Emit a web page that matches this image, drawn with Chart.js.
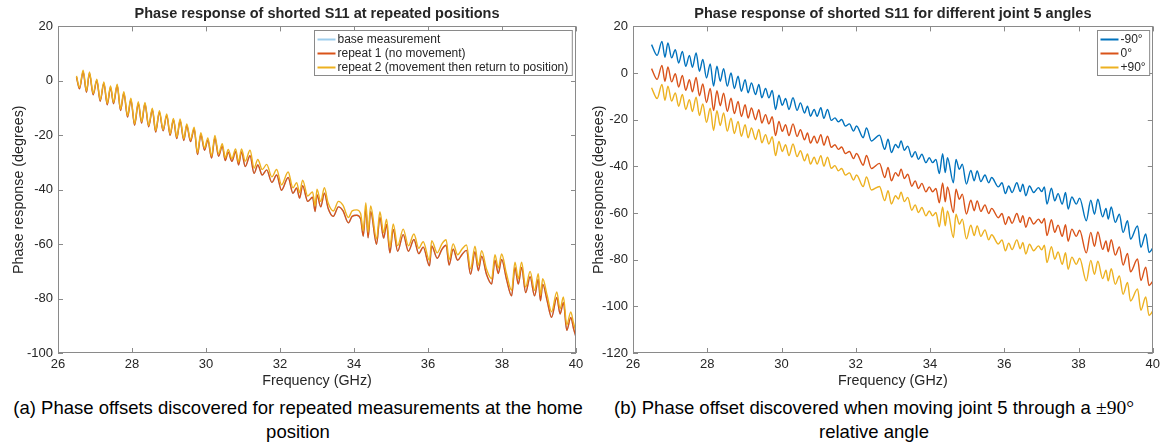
<!DOCTYPE html>
<html>
<head>
<meta charset="utf-8">
<script src="https://cdn.jsdelivr.net/npm/chart.js"></script>
<style>
  body { margin: 0; background: #fff; width: 1164px; height: 448px; position: relative; overflow: hidden; }
  .box { position: absolute; top: 0; height: 396px; }
  .cap { position: absolute; top: 396px; font-family: "Liberation Sans", Arial, sans-serif; font-size: 18.5px; line-height: 24px; color: #000; text-align: center; }
  .serif { font-family: "Liberation Serif", "Times New Roman", serif; font-size: 19.5px; }
</style>
</head>
<body>
<div class="box" style="left:0;width:590px"><canvas id="graphA"></canvas></div>
<div class="box" style="left:590px;width:574px"><canvas id="graphB"></canvas></div>
<div class="cap" style="left:0;width:596px">(a) Phase offsets discovered for repeated measurements at the home<br>position</div>
<div class="cap" style="left:594px;width:560px">(b) Phase offset discovered when moving joint 5 through a <span class="serif">±90°</span><br>relative angle</div>
<script>
// ---- (a) repeated positions ----
const freqA = [
  26.50, 26.58, 26.68, 26.77, 26.85, 26.95, 27.05, 27.14, 27.24, 27.33,
  27.42, 27.50, 27.60, 27.69, 27.78, 27.88, 27.97, 28.07, 28.17, 28.26,
  28.35, 28.45, 28.55, 28.64, 28.74, 28.84, 28.94, 29.03, 29.12, 29.21,
  29.30, 29.40, 29.48, 29.58, 29.68, 29.77, 29.86, 29.96, 30.05, 30.15,
  30.24, 30.34, 30.44, 30.52, 30.60, 30.70, 30.80, 30.88, 30.96, 31.06,
  31.19, 31.30, 31.40, 31.52, 31.64, 31.78, 31.91, 32.04, 32.22, 32.35,
  32.45, 32.53, 32.61, 32.75, 32.88, 32.95, 33.00, 33.10, 33.20, 33.30,
  33.44, 33.58, 33.70, 33.85, 33.95, 34.07, 34.18, 34.25, 34.32, 34.38,
  34.45, 34.61, 34.70, 34.80, 34.88, 34.97, 35.06, 35.18, 35.33, 35.47,
  35.62, 35.75, 35.87, 36.04, 36.10, 36.25, 36.38, 36.49, 36.57, 36.68,
  36.80, 36.92, 37.04, 37.15, 37.27, 37.36, 37.45, 37.58, 37.72, 37.81,
  37.90, 37.99, 38.12, 38.26, 38.35, 38.44, 38.53, 38.64, 38.76, 38.88,
  38.98, 39.04, 39.10, 39.22, 39.34, 39.48, 39.57, 39.66, 39.75, 39.86,
  39.93, 40.00
];
const baseMeas = [
  1.3, -2.9, 3.3, -4.2, 2.8, -5.1, 0.1, -7.5, -0.9, -8.8,
  -2.4, -8.4, -1.7, -10.9, -4.5, -13.3, -6.9, -16.3, -8.2, -15.5,
  -8.4, -16.9, -10.6, -18.8, -11.5, -18.4, -12.7, -20.0, -14.3, -21.2,
  -14.6, -21.9, -16.4, -22.3, -17.7, -27.1, -19.8, -25.5, -21.8, -28.4,
  -21.0, -27.7, -24.0, -29.3, -26.2, -29.6, -26.0, -30.9, -26.1, -31.5,
  -27.5, -34.0, -30.9, -34.6, -32.7, -37.3, -34.6, -40.2, -35.5, -41.3,
  -39.4, -43.1, -38.5, -44.3, -42.8, -48.0, -41.8, -46.3, -41.3, -46.8,
  -49.8, -46.3, -47.7, -52.2, -49.8, -49.4, -50.8, -57.1, -46.8, -57.7,
  -48.0, -60.1, -50.1, -57.8, -52.8, -63.2, -54.6, -62.6, -56.5, -62.6,
  -58.3, -63.5, -61.1, -68.0, -60.7, -65.2, -61.8, -60.4, -67.7, -61.9,
  -65.9, -63.8, -62.3, -71.1, -62.8, -69.8, -64.4, -71.1, -74.7, -65.9,
  -70.8, -65.6, -72.8, -79.0, -68.6, -74.7, -68.6, -77.8, -72.0, -79.0,
  -72.9, -80.8, -74.7, -80.8, -86.9, -79.6, -85.7, -81.4, -91.7, -86.9,
  -90.8, -94.2
];
const repeat1 = [
  1.3, -2.9, 3.3, -4.2, 2.8, -5.1, 0.1, -7.5, -0.9, -8.8,
  -2.4, -8.4, -1.7, -10.9, -4.5, -13.3, -6.9, -16.3, -8.2, -15.5,
  -8.4, -16.9, -10.6, -18.8, -11.5, -18.4, -12.7, -20.0, -14.3, -21.2,
  -14.6, -21.9, -16.4, -22.3, -17.7, -27.1, -19.8, -25.5, -21.8, -28.4,
  -21.0, -27.7, -24.0, -29.3, -26.2, -29.6, -26.0, -30.9, -26.1, -31.5,
  -27.5, -34.0, -30.9, -34.6, -32.7, -37.3, -34.6, -40.2, -35.5, -41.3,
  -39.4, -43.1, -38.5, -44.3, -42.8, -48.0, -41.8, -46.3, -41.3, -46.8,
  -49.8, -46.3, -47.7, -52.2, -49.8, -49.4, -50.8, -57.1, -46.8, -57.7,
  -48.0, -60.1, -50.1, -57.8, -52.8, -63.2, -54.6, -62.6, -56.5, -62.6,
  -58.3, -63.5, -61.1, -68.0, -60.7, -65.2, -61.8, -60.4, -67.7, -61.9,
  -65.9, -63.8, -62.3, -71.1, -62.8, -69.8, -64.4, -71.1, -74.7, -65.9,
  -70.8, -65.6, -72.8, -79.0, -68.6, -74.7, -68.6, -77.8, -72.0, -79.0,
  -72.9, -80.8, -74.7, -80.8, -86.9, -79.6, -85.7, -81.4, -91.7, -86.9,
  -90.8, -94.2
];
const repeat2 = [
  1.8, -2.4, 3.9, -3.7, 3.3, -4.6, 0.6, -7.0, -0.4, -8.3,
  -1.9, -7.9, -1.2, -10.4, -4.0, -12.8, -6.4, -15.8, -7.7, -15.0,
  -7.9, -16.4, -10.1, -18.3, -11.0, -17.9, -12.2, -19.5, -13.8, -20.7,
  -14.0, -21.3, -15.8, -21.6, -17.0, -26.4, -19.1, -24.7, -21.0, -27.6,
  -20.1, -26.8, -23.1, -28.3, -25.2, -28.6, -25.0, -29.8, -25.0, -29.5,
  -25.5, -32.0, -28.9, -32.6, -30.7, -35.3, -32.6, -38.2, -33.5, -39.3,
  -37.4, -41.1, -36.5, -42.3, -40.8, -46.0, -39.8, -44.3, -39.3, -44.8,
  -47.8, -44.3, -45.7, -50.2, -47.8, -47.4, -48.8, -55.1, -44.8, -55.7,
  -46.0, -58.1, -48.1, -55.8, -50.8, -61.2, -52.6, -60.6, -54.5, -60.6,
  -56.3, -61.5, -59.1, -66.0, -58.7, -63.2, -59.8, -58.4, -65.7, -59.9,
  -63.9, -61.8, -60.3, -69.1, -60.8, -67.8, -62.4, -69.1, -72.7, -63.9,
  -68.8, -63.6, -70.8, -77.0, -66.6, -72.7, -66.6, -75.8, -70.0, -77.0,
  -70.9, -78.8, -72.7, -78.8, -84.9, -77.6, -83.7, -79.4, -89.7, -84.9,
  -88.8, -92.2
];

// ---- (b) joint 5 angles ----
const freqB = [
  26.50, 26.65, 26.78, 26.86, 26.94, 27.04, 27.14, 27.23, 27.33, 27.42,
  27.52, 27.60, 27.70, 27.79, 27.88, 27.98, 28.08, 28.17, 28.26, 28.35,
  28.44, 28.54, 28.64, 28.73, 28.83, 28.92, 29.02, 29.10, 29.19, 29.30,
  29.39, 29.47, 29.57, 29.66, 29.75, 29.84, 29.93, 30.02, 30.11, 30.20,
  30.31, 30.42, 30.51, 30.62, 30.70, 30.78, 30.88, 30.96, 31.06, 31.14,
  31.24, 31.34, 31.44, 31.53, 31.62, 31.72, 31.83, 31.94, 32.02, 32.20,
  32.29, 32.42, 32.64, 32.78, 32.87, 32.96, 33.07, 33.15, 33.22, 33.31,
  33.40, 33.51, 33.60, 33.69, 33.78, 33.89, 33.98, 34.07, 34.16, 34.25,
  34.34, 34.41, 34.47, 34.63, 34.70, 34.79, 34.87, 34.98, 35.10, 35.19,
  35.27, 35.37, 35.48, 35.58, 35.66, 35.84, 35.94, 36.03, 36.12, 36.21,
  36.34, 36.43, 36.50, 36.58, 36.68, 36.79, 36.92, 37.01, 37.08, 37.15,
  37.27, 37.36, 37.45, 37.56, 37.65, 37.72, 37.82, 37.94, 38.03, 38.21,
  38.33, 38.43, 38.52, 38.65, 38.74, 38.80, 38.88, 38.99, 39.10, 39.20,
  39.32, 39.40, 39.59, 39.68, 39.81, 39.90, 40.00
];
const minus90 = [
  12.2, 7.6, 13.6, 6.8, 12.9, 6.5, 10.0, 4.3, 9.3, 2.9,
  7.6, 2.5, 8.6, 0.8, 5.8, -2.1, 3.9, -5.6, 2.9, -3.5,
  1.9, -5.6, 0.0, -6.6, -1.4, -7.8, -2.8, -8.5, -4.2, -9.2,
  -4.9, -10.6, -6.6, -10.6, -7.5, -15.6, -9.5, -13.8, -10.9, -15.6,
  -10.6, -16.0, -12.8, -17.1, -14.2, -18.5, -15.6, -18.5, -14.9, -19.4,
  -15.6, -20.3, -19.2, -20.9, -19.9, -22.7, -21.8, -24.9, -22.7, -27.7,
  -23.5, -29.1, -26.6, -32.7, -28.4, -34.1, -30.6, -32.0, -29.1, -33.1,
  -31.3, -36.0, -33.7, -37.0, -34.8, -38.4, -36.3, -38.4, -37.0, -43.1,
  -34.6, -42.7, -36.3, -47.0, -37.0, -41.3, -39.1, -47.6, -41.7, -46.2,
  -42.0, -46.5, -43.7, -47.0, -44.8, -48.8, -47.0, -51.7, -48.4, -51.2,
  -47.0, -50.8, -47.6, -52.6, -48.4, -51.2, -49.1, -50.8, -48.8, -56.2,
  -49.4, -54.8, -51.7, -56.2, -51.2, -58.3, -53.1, -56.2, -53.6, -63.3,
  -54.5, -60.5, -54.1, -61.6, -58.0, -62.6, -57.4, -64.0, -60.5, -68.3,
  -63.3, -71.2, -65.5, -74.7, -69.0, -76.9, -75.0
];
const zero = [
  1.9, -2.7, 3.3, -3.5, 2.6, -3.8, -0.3, -6.0, -1.0, -7.4,
  -2.9, -8.0, -1.9, -9.7, -4.7, -12.6, -6.6, -16.1, -7.6, -14.0,
  -8.6, -16.4, -10.8, -17.4, -12.2, -18.6, -13.6, -19.3, -15.0, -20.0,
  -15.7, -21.4, -17.8, -21.8, -18.7, -26.8, -20.7, -25.0, -22.1, -26.8,
  -21.8, -27.2, -24.3, -28.6, -25.7, -30.0, -27.1, -30.0, -26.4, -30.9,
  -27.1, -31.8, -30.7, -32.7, -31.7, -34.5, -33.6, -36.7, -34.5, -39.5,
  -35.3, -40.9, -38.7, -44.8, -40.5, -46.2, -42.7, -44.1, -41.2, -45.2,
  -43.4, -48.5, -46.2, -49.5, -47.3, -50.9, -48.8, -50.9, -49.5, -55.6,
  -47.1, -55.2, -48.8, -59.8, -49.8, -54.1, -51.9, -60.4, -54.5, -59.0,
  -54.8, -59.3, -56.5, -60.2, -58.0, -62.0, -60.2, -64.9, -61.6, -64.4,
  -60.2, -64.0, -61.1, -66.1, -61.9, -64.7, -62.6, -64.3, -62.3, -69.7,
  -62.9, -68.3, -65.2, -70.0, -65.0, -72.1, -66.9, -70.0, -67.4, -77.1,
  -68.3, -74.3, -68.1, -75.6, -72.0, -76.6, -71.4, -78.0, -74.5, -82.3,
  -77.3, -85.2, -79.7, -88.9, -83.2, -91.1, -89.2
];
const plus90 = [
  -6.3, -10.9, -4.9, -11.7, -5.6, -12.0, -8.5, -14.2, -9.2, -15.6,
  -11.4, -16.5, -10.4, -18.2, -13.2, -21.1, -15.1, -24.6, -16.1, -22.5,
  -17.1, -24.9, -19.3, -25.9, -20.7, -27.1, -22.1, -27.8, -23.5, -28.5,
  -24.2, -29.9, -26.4, -30.4, -27.3, -35.4, -29.3, -33.6, -30.7, -35.4,
  -30.4, -35.8, -33.3, -37.6, -34.7, -39.0, -36.1, -39.0, -35.4, -39.9,
  -36.1, -40.8, -39.7, -41.9, -40.9, -43.7, -42.8, -45.9, -43.7, -48.7,
  -44.5, -50.1, -48.6, -54.7, -50.4, -56.1, -52.6, -54.0, -51.1, -55.1,
  -53.3, -58.8, -56.5, -59.8, -57.6, -61.2, -59.1, -61.2, -59.8, -65.9,
  -57.4, -65.5, -59.1, -70.5, -60.5, -64.8, -62.6, -71.1, -65.2, -69.7,
  -65.5, -70.0, -67.2, -71.5, -69.3, -73.3, -71.5, -76.2, -72.9, -75.7,
  -71.5, -75.3, -72.6, -77.6, -73.4, -76.2, -74.1, -75.8, -73.8, -81.2,
  -74.4, -79.8, -76.7, -82.0, -77.0, -84.1, -78.9, -82.0, -79.4, -89.1,
  -80.3, -86.3, -80.6, -88.1, -84.5, -89.1, -83.9, -90.5, -87.0, -94.8,
  -89.8, -97.7, -92.5, -101.7, -96.0, -103.9, -102.0
];

const xTicks = [26, 28, 30, 32, 34, 36, 38, 40];

const blue = "#0072BD";
const orange = "#D95319";
const yellow = "#EDB120";
const lightBlue = "#9DCDEC";
const ink = "#262626";
const FONT = '"Liberation Sans", Arial, sans-serif';

const pts = (xs, ys) => xs.map((x, i) => ({ x: x, y: ys[i] }));

// box round the axes with inward ticks on all four sides
const matlabAxes = {
  id: 'matlabAxes',
  afterDatasetsDraw(chart) {
    const { ctx, chartArea: a, scales: { x, y } } = chart;
    ctx.save();
    ctx.strokeStyle = '#8a8a8a';
    ctx.lineWidth = 1;
    ctx.beginPath();
    x.ticks.forEach(t => {
      const px = Math.round(x.getPixelForValue(t.value)) + 0.5;
      ctx.moveTo(px, a.bottom); ctx.lineTo(px, a.bottom - 5);
      ctx.moveTo(px, a.top); ctx.lineTo(px, a.top + 5);
    });
    y.ticks.forEach(t => {
      const py = Math.round(y.getPixelForValue(t.value)) + 0.5;
      ctx.moveTo(a.left, py); ctx.lineTo(a.left + 5, py);
      ctx.moveTo(a.right, py); ctx.lineTo(a.right - 5, py);
    });
    ctx.stroke();
    ctx.strokeRect(Math.round(a.left) + 0.5, Math.round(a.top) + 0.5,
                   Math.round(a.width) - 1, Math.round(a.height) - 1);
    ctx.restore();
  }
};

// legend box in the top right corner of the plot area
const insideLegend = {
  id: 'insideLegend',
  afterDraw(chart) {
    const { ctx, chartArea: a } = chart;
    const sets = chart.data.datasets;
    ctx.save();
    ctx.font = '12px ' + FONT;
    const tw = Math.max(...sets.map(d => ctx.measureText(d.label).width));
    const w = 3 + 18 + 2 + tw + 4;
    const rowH = 14;
    const h = sets.length * rowH + 3;
    const left = Math.round(a.right - w - 4) + 0.5;
    const top = Math.round(a.top + 4) + 0.5;
    ctx.fillStyle = '#fff';
    ctx.fillRect(left, top, w, h);
    ctx.strokeStyle = '#8a8a8a';
    ctx.lineWidth = 1;
    ctx.strokeRect(left, top, w, h);
    sets.forEach((d, i) => {
      const cy = top + 2 + rowH * i + rowH / 2;
      ctx.strokeStyle = d.borderColor;
      ctx.lineWidth = 2;
      ctx.beginPath();
      ctx.moveTo(left + 3, cy); ctx.lineTo(left + 21, cy);
      ctx.stroke();
      ctx.fillStyle = ink;
      ctx.textBaseline = 'middle';
      ctx.fillText(d.label, left + 23, cy);
    });
    ctx.restore();
  }
};

function makeChart(el, datasets, opts) {
  return new Chart(document.getElementById(el), {
    type: 'line',
    data: { datasets: datasets },
    options: {
      responsive: false,
      animation: false,
      layout: { padding: { left: 0, right: opts.padRight, top: 0, bottom: 0 } },
      elements: {
        point: { radius: 0 },
        line: { borderWidth: 1.4, cubicInterpolationMode: 'monotone' }
      },
      plugins: {
        legend: { display: false },
        tooltip: { enabled: false },
        title: {
          display: true,
          text: opts.title,
          fullSize: false,
          color: ink,
          font: { family: FONT, size: 14.5, weight: 'bold' },
          padding: { top: 5, bottom: 4 }
        }
      },
      scales: {
        x: {
          type: 'linear',
          min: 26, max: 40,
          afterBuildTicks: s => { s.ticks = xTicks.map(v => ({ value: v })); },
          afterFit: s => { s.height = 43; },
          grid: { display: false, drawTicks: false },
          border: { display: false },
          ticks: { color: ink, font: { family: FONT, size: 13 }, padding: 4, maxRotation: 0 },
          title: { display: true, text: 'Frequency (GHz)', color: ink,
                   font: { family: FONT, size: 14.3 }, padding: { top: 0, bottom: 6 } }
        },
        y: {
          min: opts.yMin, max: 20,
          afterBuildTicks: s => { s.ticks = opts.yTicks.map(v => ({ value: v })); },
          afterFit: s => { s.width = opts.yWidth; },
          grid: { display: false, drawTicks: false },
          border: { display: false },
          ticks: { color: ink, font: { family: FONT, size: 13 }, padding: 5 },
          title: { display: true, text: 'Phase response (degrees)', color: ink,
                   font: { family: FONT, size: 14.3 }, padding: { top: opts.yTitlePad, bottom: 0 } }
        }
      }
    },
    plugins: [matlabAxes, insideLegend]
  });
}

const cA = document.getElementById('graphA');
cA.width = 590; cA.height = 396;
const cB = document.getElementById('graphB');
cB.width = 574; cB.height = 396;

// higher order is drawn first, so the last series ends up on top
makeChart('graphA', [
  { label: 'base measurement', data: pts(freqA, baseMeas), borderColor: lightBlue, order: 3 },
  { label: 'repeat 1 (no movement)', data: pts(freqA, repeat1), borderColor: orange, order: 2 },
  { label: 'repeat 2 (movement then return to position)', data: pts(freqA, repeat2), borderColor: yellow, order: 1 }
], {
  title: 'Phase response of shorted S11 at repeated positions',
  yMin: -100, yTicks: [-100, -80, -60, -40, -20, 0, 20],
  yWidth: 58, yTitlePad: 10, padRight: 14
});

makeChart('graphB', [
  { label: '-90°', data: pts(freqB, minus90), borderColor: blue, order: 3 },
  { label: '0°', data: pts(freqB, zero), borderColor: orange, order: 2 },
  { label: '+90°', data: pts(freqB, plus90), borderColor: yellow, order: 1 }
], {
  title: 'Phase response of shorted S11 for different joint 5 angles',
  yMin: -120, yTicks: [-120, -100, -80, -60, -40, -20, 0, 20],
  yWidth: 43, yTitlePad: 0, padRight: 7
});
</script>
</body>
</html>
